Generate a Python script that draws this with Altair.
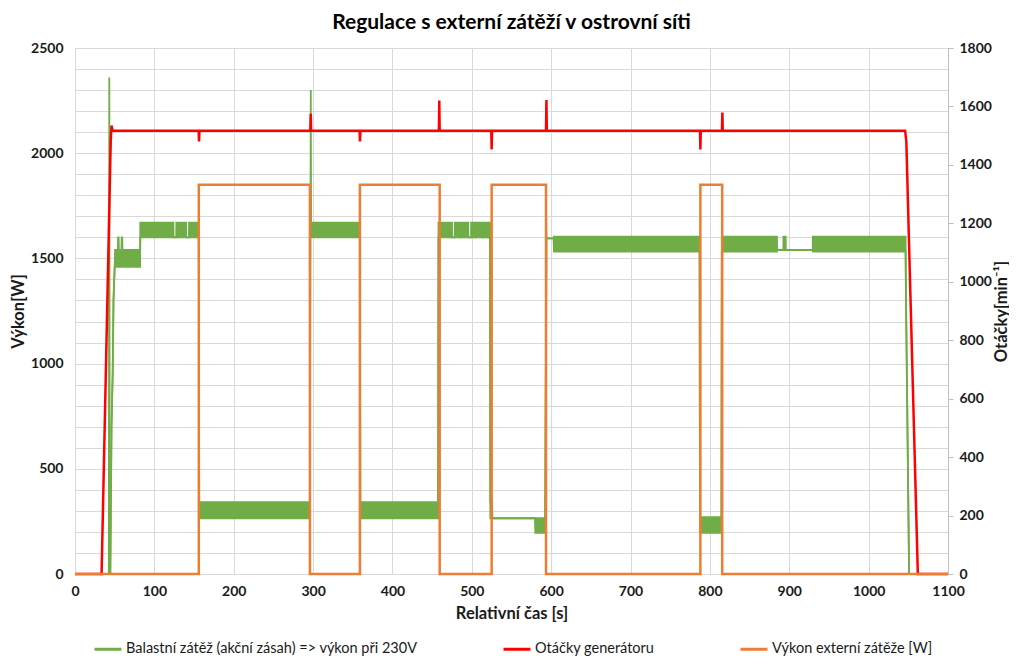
import altair as alt
import pandas as pd

FONT = "Lato"
S_GREEN = "Balastní zátěž (akční zásah) => výkon při 230V"
S_RED = "Otáčky generátoru"
S_ORANGE = "Výkon externí zátěže [W]"

# Ballast load (band = fast oscillation between lo and hi) [W]
green_t = [0, 44.5, 46, 47.5, 48.5, 50, 50.5, 54, 54.3, 55.0, 55.3, 58.5, 58.8, 59.5, 59.8, 82,
           82.3, 124, 124.2, 127.5, 127.7, 140, 140.2, 143.5, 143.7, 156,
           156.5, 296, 296.5, 359, 359.5, 457.5,
           458, 475, 475.2, 478.5, 478.7, 485, 485.2, 487, 487.2, 495.5, 495.7, 499, 499.2,
           503, 503.2, 504.5, 504.7, 512.5, 512.7, 514.5, 514.7, 519, 519.2, 521, 521.2, 523,
           523.3, 525.5, 526, 579.5, 580, 592.5,
           594, 603, 603.5, 787, 787.5, 814.5, 815, 884.5, 884.7, 892.5, 892.7, 895.5, 895.7,
           929.5, 929.7, 1046.5, 1047, 1051, 1100]
green_lo = [0, 0, 700, 960, 1300, 1460, 1460, 1460, 1460, 1460, 1460, 1460, 1460, 1460, 1460, 1460,
            1600, 1600, 1600, 1600, 1600, 1600, 1600, 1600, 1600, 1600,
            265, 265, 1600, 1600, 265, 265,
            1600, 1600, 1600, 1600, 1600, 1600, 1600, 1600, 1600, 1600, 1600, 1600, 1600,
            1600, 1600, 1600, 1600, 1600, 1600, 1600, 1600, 1600, 1600, 1600, 1600, 1600,
            265, 265, 265, 265, 196, 196,
            1595, 1595, 1532, 1532, 196, 196, 1532, 1532, 1540, 1540, 1540, 1540, 1540,
            1540, 1532, 1532, 1335, 0, 0]
green_hi = [0, 0, 700, 960, 1300, 1460, 1540, 1540, 1600, 1600, 1540, 1540, 1600, 1600, 1540, 1540,
            1670, 1670, 1600, 1600, 1670, 1670, 1600, 1600, 1670, 1670,
            342, 342, 1670, 1670, 342, 342,
            1670, 1670, 1600, 1600, 1670, 1670, 1600, 1600, 1670, 1670, 1600, 1600, 1670,
            1670, 1600, 1600, 1670, 1670, 1600, 1600, 1670, 1670, 1600, 1600, 1670, 1670,
            340, 340, 265, 265, 265, 265,
            1595, 1595, 1603, 1603, 270, 270, 1603, 1603, 1540, 1540, 1603, 1603, 1540,
            1540, 1603, 1603, 1335, 0, 0]

# Ballast load spikes [W]
spike_t = [42.6, 43.2, 43.8, 296.7, 297.1, 297.5, 593.0, 593.5, 594.0]
spike_v = [0, 2360, 0, 1650, 2300, 1650, 265, 1740, 1595]
spike_id = [1, 1, 1, 2, 2, 2, 3, 3, 3]

# Generator speed [min-1]
red_t = [0, 33.5, 45, 46, 47.5, 155.8, 156.3, 156.8, 296.5, 297, 297.5, 358.6, 359.1, 359.6,
         458.5, 459, 459.5, 524.5, 525, 525.5, 593.5, 594, 594.5, 787.5, 788, 788.5,
         815.2, 815.7, 816.2, 1046, 1047.5, 1062, 1100]
red_v = [0, 0, 1480, 1535, 1517, 1517, 1480, 1517, 1517, 1575, 1517, 1517, 1480, 1517,
         1517, 1620, 1517, 1517, 1453, 1517, 1517, 1622, 1517, 1517, 1453, 1517,
         1517, 1579, 1517, 1517, 1480, 0, 0]

# External load [W] (step)
orange_t = [0, 156, 296, 359, 459.5, 525, 593.5, 788, 815.5, 1100]
orange_v = [0, 1850, 0, 1850, 0, 1850, 0, 1850, 0, 0]

gdf = pd.DataFrame({"t": green_t, "lo": green_lo, "hi": green_hi, "series": S_GREEN})
sdf = pd.DataFrame({"t": spike_t, "v": spike_v, "id": spike_id})
rdf = pd.DataFrame({"t": red_t, "v": red_v, "series": S_RED})
odf = pd.DataFrame({"t": orange_t, "v": orange_v, "series": S_ORANGE})

GRID = "#D9D9D9"
TXT = "#1a1a1a"

xenc = alt.X("t:Q", scale=alt.Scale(domain=[0, 1100], nice=False, zero=False),
             axis=alt.Axis(values=list(range(0, 1101, 100)), title="Relativní čas [s]",
                           format="d", grid=True, gridColor=GRID, ticks=False, domain=False,
                           labelPadding=10, titlePadding=7, labelFlush=False))

left_axis = alt.Axis(values=list(range(0, 2501, 100)),
                     labelExpr="datum.value % 500 == 0 ? datum.value : ''",
                     title="Výkon[W]", grid=True, gridColor=GRID, ticks=False,
                     domain=True, domainColor=GRID, labelPadding=12,
                     titleX=-57, titleY=263, titleAngle=270, titleBaseline="middle",
                     orient="left")
lscale = alt.Scale(domain=[0, 2500], nice=False)

color = alt.Color("series:N",
                  scale=alt.Scale(domain=[S_GREEN, S_RED, S_ORANGE],
                                  range=["#70AD47", "#FF0000", "#ED7D31"]),
                  legend=alt.Legend(title=None, orient="none", legendX=18, legendY=586,
                                    direction="horizontal", columns=3, columnPadding=79,
                                    symbolType="stroke", symbolSize=729, symbolStrokeWidth=3,
                                    labelFontSize=14.5, labelFont=FONT, labelColor=TXT,
                                    labelLimit=400, labelOffset=3))

band = alt.Chart(gdf).mark_area(color="#70AD47", interpolate="linear").encode(
    x=xenc, y=alt.Y("lo:Q", scale=lscale, axis=left_axis), y2="hi:Q")
lo_line = alt.Chart(gdf).mark_line(strokeWidth=1.8, interpolate="linear").encode(
    x=xenc, y=alt.Y("lo:Q", scale=lscale, axis=left_axis), color=color)
hi_line = alt.Chart(gdf).mark_line(strokeWidth=1.8, interpolate="linear").encode(
    x=xenc, y=alt.Y("hi:Q", scale=lscale, axis=left_axis), color=color)
spikes = alt.Chart(sdf).mark_line(strokeWidth=1.8, color="#70AD47").encode(
    x=xenc, y=alt.Y("v:Q", scale=lscale, axis=left_axis), detail="id:N")
green = alt.layer(band, lo_line, hi_line, spikes)

red = alt.Chart(rdf).mark_line(strokeWidth=2.5).encode(
    x=xenc,
    y=alt.Y("v:Q", scale=alt.Scale(domain=[0, 1800], nice=False),
            axis=alt.Axis(orient="right", values=list(range(0, 1801, 200)), format="d",
                          title="Otáčky[min⁻¹]", grid=False, ticks=True, tickSize=5,
                          tickColor="#BFBFBF", domain=True, domainColor="#BFBFBF",
                          labelPadding=6, titleX=53, titleY=263, titleAngle=270,
                          titleBaseline="middle")),
    color=color)

orange = alt.Chart(odf).mark_line(strokeWidth=2.5, interpolate="step-after").encode(
    x=xenc, y=alt.Y("v:Q", scale=lscale, axis=None), color=color)

chart = alt.layer(green, red, orange).resolve_scale(y="independent").properties(
    width=873, height=526,
    title=alt.TitleParams("Regulace s externí zátěží v ostrovní síti", fontSize=21,
                          font=FONT, fontWeight="bold", color="#000000", offset=8,
                          anchor="middle"),
    autosize=alt.AutoSizeParams(type="none"),
    padding={"left": 67, "top": 40, "right": 61, "bottom": 86},
).configure(background="white").configure_view(stroke=None).configure_axis(
    labelFont=FONT, labelFontSize=14, labelFontWeight="bold", labelColor=TXT,
    titleFont=FONT, titleFontSize=16.5, titleFontWeight="bold", titleColor=TXT,
)

chart.save("out.html", embed_options={"renderer": "svg", "actions": False})
